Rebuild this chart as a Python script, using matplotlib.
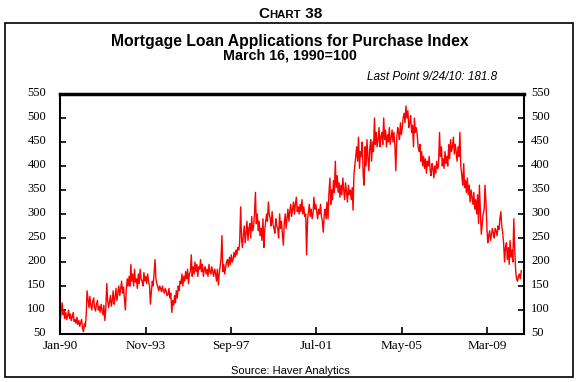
import numpy as np
import pandas as pd
import matplotlib
matplotlib.use("Agg")
import matplotlib.pyplot as plt
import matplotlib.transforms as mtransforms
from matplotlib.patches import Rectangle

# semi-monthly readings of the index, Jan-1990 .. Sep-2010
y1990 = [78, 98, 115, 90, 100, 82, 95, 80, 88, 100, 82, 92, 78, 85, 95, 76, 80, 72, 85, 70, 78, 66, 74, 80]
y1991 = [62, 55, 72, 65, 90, 140, 120, 105, 128, 110, 100, 118, 125, 105, 98, 112, 120, 100, 108, 95, 112, 100, 90, 110]
y1992 = [78, 100, 155, 120, 105, 115, 130, 108, 120, 140, 112, 125, 145, 120, 135, 150, 130, 145, 160, 135, 148, 125, 100, 140]
y1993 = [165, 150, 170, 150, 195, 160, 175, 150, 185, 158, 165, 145, 175, 155, 185, 165, 160, 150, 178, 160, 170, 155, 175, 160]
y1994 = [150, 112, 140, 160, 150, 175, 205, 165, 155, 148, 140, 150, 145, 138, 150, 140, 135, 145, 140, 130, 132, 145, 125, 135]
y1995 = [95, 120, 110, 130, 115, 140, 125, 150, 140, 160, 155, 175, 150, 170, 160, 180, 165, 185, 155, 175, 180, 215, 170, 190]
y1996 = [175, 200, 180, 195, 170, 190, 185, 205, 180, 195, 170, 185, 190, 175, 185, 170, 195, 180, 175, 190, 180, 170, 185, 178]
y1997 = [160, 185, 152, 175, 190, 205, 255, 180, 195, 175, 190, 200, 205, 190, 210, 195, 215, 200, 205, 220, 210, 225, 215, 230]
y1998 = [225, 240, 315, 250, 230, 255, 275, 240, 260, 285, 245, 270, 280, 250, 295, 265, 275, 300, 345, 280, 300, 265, 285, 255]
y1999 = [270, 245, 290, 230, 265, 280, 300, 285, 325, 300, 290, 275, 305, 280, 270, 260, 290, 275, 270, 250, 300, 270, 285, 260]
y2000 = [235, 280, 300, 270, 290, 310, 285, 305, 320, 295, 310, 325, 300, 320, 335, 305, 315, 300, 320, 305, 330, 300, 315, 295]
y2001 = [300, 215, 290, 305, 320, 295, 310, 290, 300, 335, 310, 320, 305, 290, 310, 300, 320, 295, 285, 262, 300, 310, 290, 325]
y2002 = [290, 340, 375, 320, 350, 330, 370, 345, 410, 355, 380, 345, 365, 335, 360, 340, 375, 350, 330, 365, 345, 325, 360, 340]
y2003 = [350, 330, 355, 308, 380, 400, 420, 440, 410, 460, 395, 430, 420, 450, 380, 360, 440, 400, 455, 420, 390, 435, 455, 410]
y2004 = [450, 430, 500, 445, 470, 440, 455, 480, 440, 460, 470, 445, 500, 455, 475, 440, 465, 450, 480, 445, 460, 475, 450, 470]
y2005 = [440, 390, 460, 480, 470, 455, 490, 465, 480, 500, 510, 490, 525, 500, 515, 480, 490, 505, 470, 485, 440, 500, 470, 480]
y2006 = [465, 440, 430, 445, 410, 430, 400, 420, 395, 415, 385, 410, 400, 420, 390, 380, 405, 395, 375, 400, 385, 410, 395, 400]
y2007 = [470, 420, 440, 400, 415, 395, 430, 405, 420, 400, 445, 415, 455, 430, 440, 460, 425, 445, 430, 410, 440, 420, 470, 400]
y2008 = [380, 360, 405, 355, 370, 345, 375, 340, 360, 325, 350, 335, 320, 345, 310, 330, 300, 340, 280, 360, 300, 258, 280, 300]
y2009 = [310, 360, 320, 270, 240, 255, 265, 245, 255, 270, 260, 250, 270, 265, 255, 275, 268, 290, 305, 275, 260, 240, 200, 230]
y2010 = [240, 205, 230, 195, 245, 210, 225, 200, 290, 230, 180, 165, 160, 170, 175, 165, 181.8]

values = (y1990 + y1991 + y1992 + y1993 + y1994 + y1995 + y1996 + y1997
          + y1998 + y1999 + y2000 + y2001 + y2002 + y2003 + y2004 + y2005
          + y2006 + y2007 + y2008 + y2009 + y2010)
dates = pd.date_range("1990-01-01", periods=len(values), freq="SMS") + pd.Timedelta(days=5)

tick_dates = ["1990-01-01", "1993-11-01", "1997-09-01", "2001-07-01", "2005-05-01", "2009-03-01"]
tick_labels = ["Jan-90", "Nov-93", "Sep-97", "Jul-01", "May-05", "Mar-09"]
yticks = [50, 100, 150, 200, 250, 300, 350, 400, 450, 500, 550]

sans = "Liberation Sans"
serif = "Liberation Serif"

fig = plt.figure(figsize=(5.8, 3.82), dpi=100)
fig.patches.append(Rectangle((5/580, 5/382), 568/580, 354/382, transform=fig.transFigure,
                             fill=False, ec="black", lw=1.2))

ax = fig.add_axes([60/580, 1 - 334/382, 464/580, 240/382])
ax.plot(dates, values, color="red", lw=1.0)
ax.set_ylim(50, 550)
ax.set_xlim(pd.Timestamp("1990-01-01"), pd.Timestamp("2010-10-20"))
ax.set_yticks(yticks)
ax.set_xticks(pd.to_datetime(tick_dates))
ax.set_xticklabels(tick_labels)
ax.tick_params(axis="y", direction="in", length=4, width=1.2, labelsize=9, pad=10)
ax.tick_params(axis="x", direction="in", length=5, width=1.2, labelsize=9.5, pad=4)
for s in ["left", "right", "bottom"]:
    ax.spines[s].set_linewidth(1.5)
ax.spines["top"].set_linewidth(2.5)

# right-hand axis labels sit closer to the frame
ax2 = ax.twinx()
ax2.set_ylim(50, 550)
ax2.set_yticks(yticks)
ax2.tick_params(axis="y", direction="in", length=4, width=1.2, labelsize=9, pad=5)
for s in ax2.spines.values():
    s.set_visible(False)

# y labels sit a little above their ticks in the original
lift = mtransforms.ScaledTranslation(0, 2/100, fig.dpi_scale_trans)
for lab in ax.get_yticklabels() + ax2.get_yticklabels():
    lab.set_transform(lab.get_transform() + lift)
for lab in ax.get_xticklabels() + ax.get_yticklabels() + ax2.get_yticklabels():
    lab.set_family(serif)

# small-caps "Chart 38"
fig.canvas.draw()
r = fig.canvas.get_renderer()
parts = [("C", 11), ("HART", 8.2), (" 38", 11)]
widths = []
for s, fs in parts:
    t = fig.text(0, 0, s, fontsize=fs, fontweight="bold", family=sans)
    widths.append(t.get_window_extent(r).width)
    t.remove()
x0 = 290 - sum(widths) / 2
for (s, fs), w in zip(parts, widths):
    fig.text(x0 / 580, 1 - 18/382, s, fontsize=fs, fontweight="bold", family=sans)
    x0 += w

fig.text(0.5, 1 - 46/382, "Mortgage Loan Applications for Purchase Index", ha="center",
         fontsize=11.3, fontweight="bold", family=sans)
fig.text(0.5, 1 - 59/382, "March 16, 1990=100", ha="center",
         fontsize=10.3, fontweight="bold", family=sans)
fig.text(497/580, 1 - 80/382, "Last Point 9/24/10: 181.8", ha="right",
         fontsize=8.5, style="italic", family=sans)
fig.text(0.5, 1 - 374/382, "Source: Haver Analytics", ha="center", fontsize=8, family=sans)

fig.savefig("out.png", dpi=100)
